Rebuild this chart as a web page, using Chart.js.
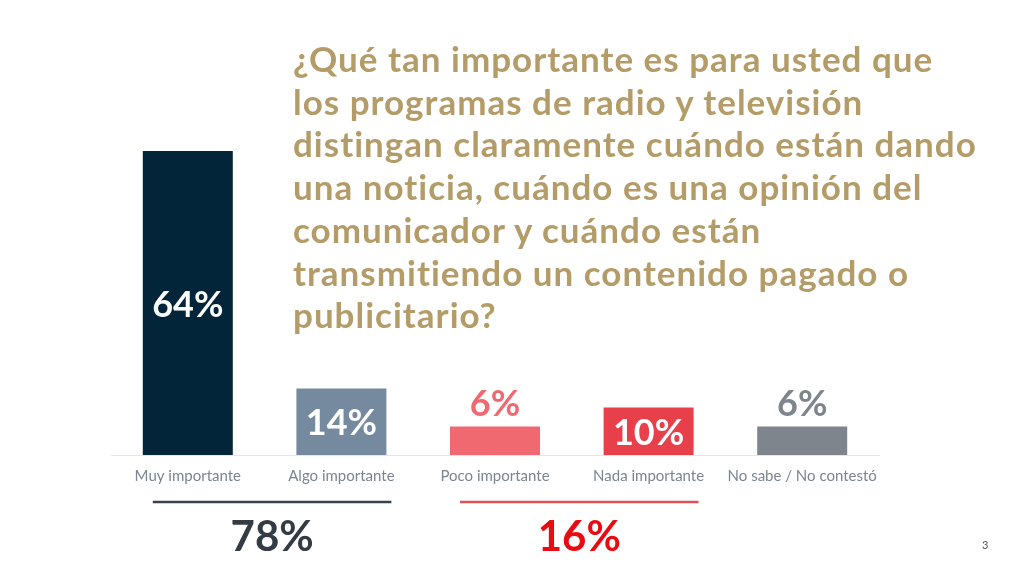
<!DOCTYPE html>
<html>
<head>
<meta charset="utf-8">
<script src="https://cdn.jsdelivr.net/npm/chart.js@4.4.1/dist/chart.umd.min.js"></script>
<style>
  html, body { margin:0; padding:0; background:#fff; }
  #wrap { position:relative; width:1024px; height:576px; overflow:hidden; }
  #c { position:absolute; left:0; top:0; }
  #title { position:absolute; left:293px; top:37px; font-family:Lato, sans-serif; font-weight:700;
           font-size:35px; letter-spacing:1px; line-height:42.7px; color:#b49c68; white-space:nowrap; }
  #page { position:absolute; left:982px; top:538px; font-family:Lato, sans-serif; font-size:11px; color:#555; }
</style>
</head>
<body>
<div id="wrap">
  <canvas id="c" width="1024" height="576"></canvas>
  <div id="title"></div>
  <div id="page">3</div>
</div>
<script>
const categories = ['Muy importante', 'Algo importante', 'Poco importante', 'Nada importante', 'No sabe / No contestó'];
const values = [64, 14, 6, 10, 6];
const barColors = ['#032539', '#768a9f', '#f06870', '#e8404a', '#7f858d'];
const titleLines = [
  '¿Qué tan importante es para usted que',
  'los programas de radio y televisión',
  'distingan claramente cuándo están dando',
  'una noticia, cuándo es una opinión del',
  'comunicador y cuándo están',
  'transmitiendo un contenido pagado o',
  'publicitario?'
];
const groupFrom = [0, 2];
const groupTo = [1, 3];
const groupTotals = [78, 16];
const groupLineColors = ['#3a424b', '#e0525a'];
const groupTextColors = ['#333b44', '#ea0a12'];

document.getElementById('title').innerHTML = titleLines.join('<br>');

const labelPlugin = {
  id: 'barLabels',
  afterDatasetsDraw(chart) {
    const ctx = chart.ctx;
    const meta = chart.getDatasetMeta(0);
    ctx.save();
    ctx.font = 'bold 36px Lato';
    ctx.textAlign = 'center';
    meta.data.forEach((bar, i) => {
      const v = values[i];
      const txt = v + '%';
      if (v >= 10) {
        ctx.fillStyle = '#ffffff';
        ctx.textBaseline = 'middle';
        ctx.fillText(txt, bar.x, (bar.y + bar.base) / 2 + 2);
      } else {
        ctx.fillStyle = barColors[i];
        ctx.textBaseline = 'alphabetic';
        ctx.fillText(txt, bar.x, bar.y - 11);
      }
    });
    const xs = chart.scales.x;
    groupTotals.forEach((t, g) => {
      const x1 = xs.getPixelForValue(groupFrom[g]) - 35;
      const x2 = xs.getPixelForValue(groupTo[g]) + 50;
      ctx.strokeStyle = groupLineColors[g];
      ctx.lineWidth = 2.5;
      ctx.beginPath();
      ctx.moveTo(x1, 502);
      ctx.lineTo(x2, 502);
      ctx.stroke();
      ctx.fillStyle = groupTextColors[g];
      ctx.font = 'bold 42px Lato';
      ctx.textBaseline = 'middle';
      ctx.fillText(t + '%', (x1 + x2) / 2, 537);
    });
    ctx.restore();
  }
};

new Chart(document.getElementById('c'), {
  type: 'bar',
  data: {
    labels: categories,
    datasets: [{
      data: values,
      backgroundColor: barColors,
      borderWidth: 0,
      categoryPercentage: 1,
      barPercentage: 0.586
    }]
  },
  options: {
    responsive: false,
    animation: false,
    devicePixelRatio: 1,
    layout: { padding: { left: 111, right: 145, top: 122.5, bottom: 87 } },
    plugins: { legend: { display: false }, tooltip: { enabled: false }, title: { display: false } },
    scales: {
      x: {
        grid: { display: false },
        border: { display: true, color: '#e6e6e6', width: 1 },
        ticks: { color: '#7b8591', font: { family: 'Lato', size: 15 }, padding: 4, maxRotation: 0, autoSkip: false }
      },
      y: { display: false, min: 0, max: 70 }
    }
  },
  plugins: [labelPlugin]
});
</script>
</body>
</html>
